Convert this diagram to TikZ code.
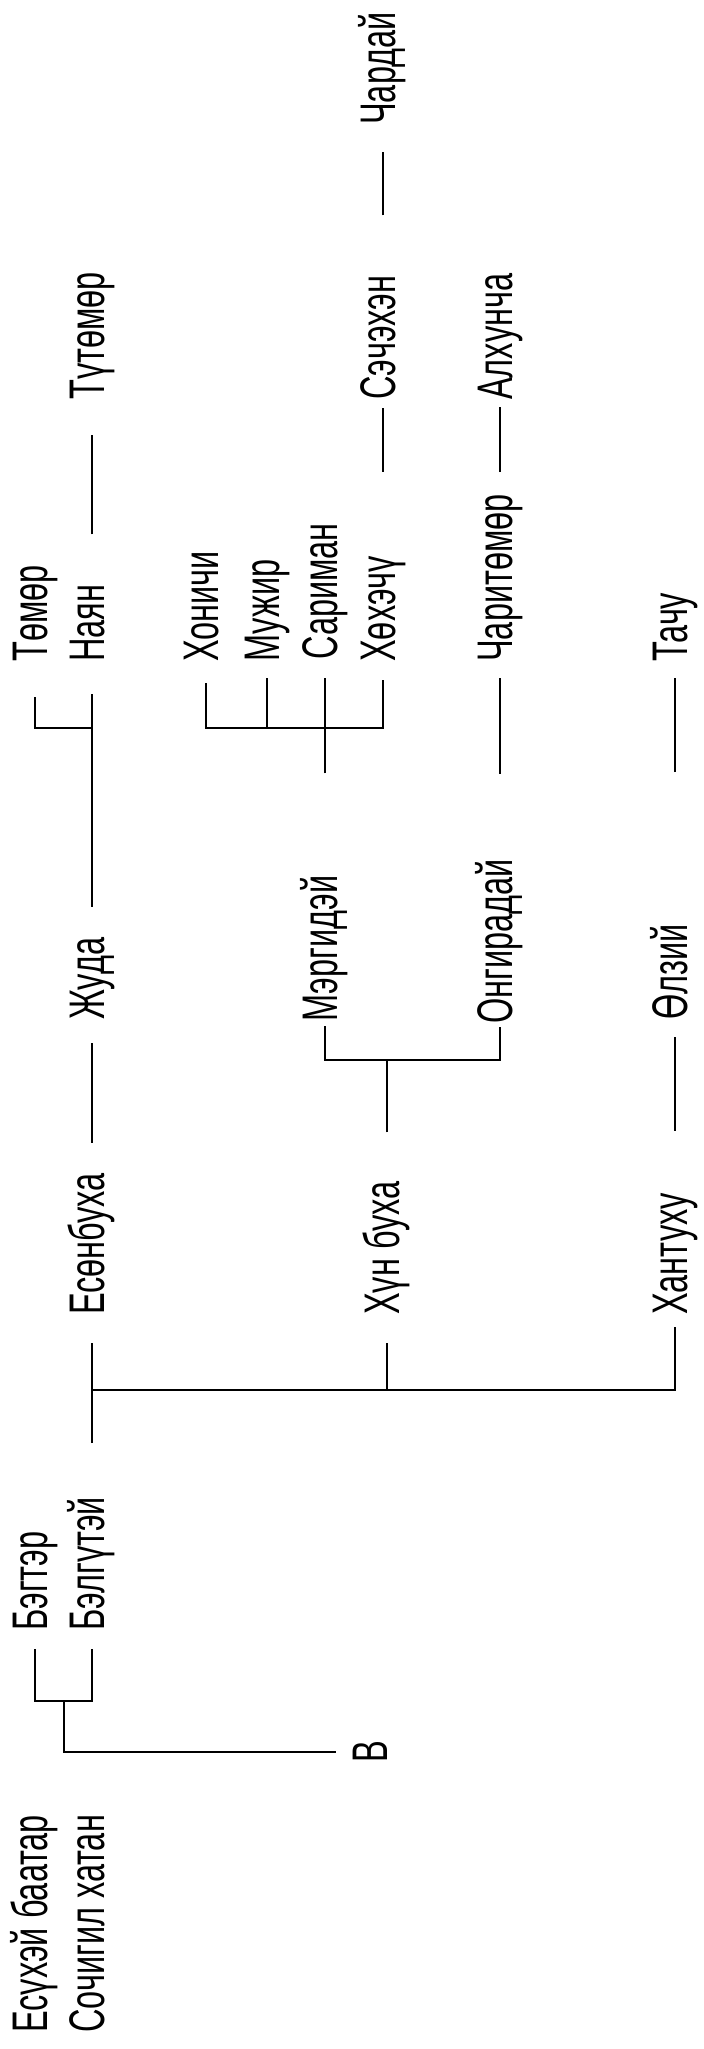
\documentclass[tikz,border=0pt]{standalone}
\usepackage{fontspec}
\setmainfont{Liberation Sans}
\usetikzlibrary{positioning,calc}

\begin{document}
\begin{tikzpicture}[x=0.5pt,y=-0.5pt,
	  person/.style={rotate=90,xscale=0.65,anchor=west,inner sep=0pt,text height=18pt,text depth=5.25pt,font=\fontsize{25}{30}\selectfont},
	  kin/.style={draw=black,line width=1pt}]

	  \useasboundingbox (0,0) rectangle (703,2049);

	  % Position the names at their row and column
	  \node[person] (esukhei) at (35,2033) {Есүхэй баатар};
	  \node[person] (sochigil) at (92,2033) {Сочигил хатан};
	  \node[person] (begter) at (35,1631) {Бэгтэр};
	  \node[person] (belgutei) at (92,1631) {Бэлгүтэй};
	  \node[person] (v) at (375,1763) {В};

	  \node[person] (esonbukha) at (92,1315) {Есөнбуха};
	  \node[person] (khunbukha) at (387,1315) {Хүн буха};
	  \node[person] (khantukhu) at (675,1315) {Хантуху};

	  \node[person] (juda) at (92,1020) {Жуда};
	  \node[person] (merg) at (325,1022) {Мэргидэй};
	  \node[person] (ongir) at (500,1024) {Онгирадай};
	  \node[person] (olzii) at (675,1020) {Өлзий};

	  \node[person] (tomor) at (35,662) {Төмөр};
	  \node[person] (nayan) at (92,662) {Наян};
	  \node[person] (khonichi) at (206,662) {Хоничи};
	  \node[person] (muzhir) at (267,662) {Мужир};
	  \node[person] (sariman) at (325,660) {Сариман};
	  \node[person] (khokhechu) at (383,662) {Хөхэчү};
	  \node[person] (charitomor) at (500,662) {Чаритөмөр};
	  \node[person] (tachu) at (675,662) {Тачу};

	  \node[person] (tutomor) at (92,400) {Түтөмөр};
	  \node[person] (sechekhen) at (383,400) {Сэчэхэн};
	  \node[person] (alkhuncha) at (500,400) {Алхунча};
	  \node[person] (chardai) at (383,125) {Чардай};

	  \coordinate (bgfork) at (63.5,1701);
	  \coordinate (mainroot) at (92,1443);
	  \coordinate (mainfork) at (92,1390);
	  \coordinate (khunfork) at (387,1060);
	  \coordinate (judafork) at (92,728);
	  \coordinate (mergfork) at (325,728);

	  \draw[kin,shorten <=9pt,shorten >=9pt] (begter) |- (bgfork) -| (belgutei);
	  \draw[kin,shorten >=7.5pt] (bgfork) |- (v);

	  \draw[kin,shorten >=14pt] (mainroot) -- (esonbukha);
	  \draw[kin,shorten >=14pt] (mainfork) -| (khunbukha);
	  \draw[kin,shorten >=6pt] (mainfork) -| (khantukhu);

	  \draw[kin,shorten <=15pt,shorten >=11.5pt] (esonbukha) -- (juda);
	  \draw[kin,shorten <=15.5pt,shorten >=16pt] (juda) -- (nayan);
	  \draw[kin,shorten >=17.5pt] (judafork) -| (tomor);
	  \draw[kin,shorten <=25pt,shorten >=17.5pt] (nayan) -- (tutomor);

	  \draw[kin,shorten <=24.5pt] (khunbukha) -- (khunfork);
	  \draw[kin,shorten >=2pt] (khunfork) -| (merg);
	  \draw[kin,shorten >=1.5pt] (khunfork) -| (ongir);

	  \draw[kin,shorten <=51pt] (merg) -- (mergfork);
	  \draw[kin,shorten >=10.5pt] (mergfork) -| (khonichi);
	  \draw[kin,shorten >=8pt] (mergfork) -| (muzhir);
	  \draw[kin,shorten >=9pt] (mergfork) -- (sariman);
	  \draw[kin,shorten >=9pt] (mergfork) -| (khokhechu);

	  \draw[kin,shorten <=42.5pt,shorten >=8pt] (ongir) -- (charitomor);
	  \draw[kin,shorten <=11pt,shorten >=3.5pt] (charitomor) -- (alkhuncha);
	  \draw[kin,shorten <=42pt,shorten >=4pt] (khokhechu) -- (sechekhen);
	  \draw[kin,shorten <=30pt,shorten >=13.5pt] (sechekhen) -- (chardai);

	  \draw[kin,shorten <=31pt,shorten >=8.5pt] (khantukhu) -- (olzii);
	  \draw[kin,shorten <=76pt,shorten >=8pt] (olzii) -- (tachu);

\end{tikzpicture}
\end{document}
